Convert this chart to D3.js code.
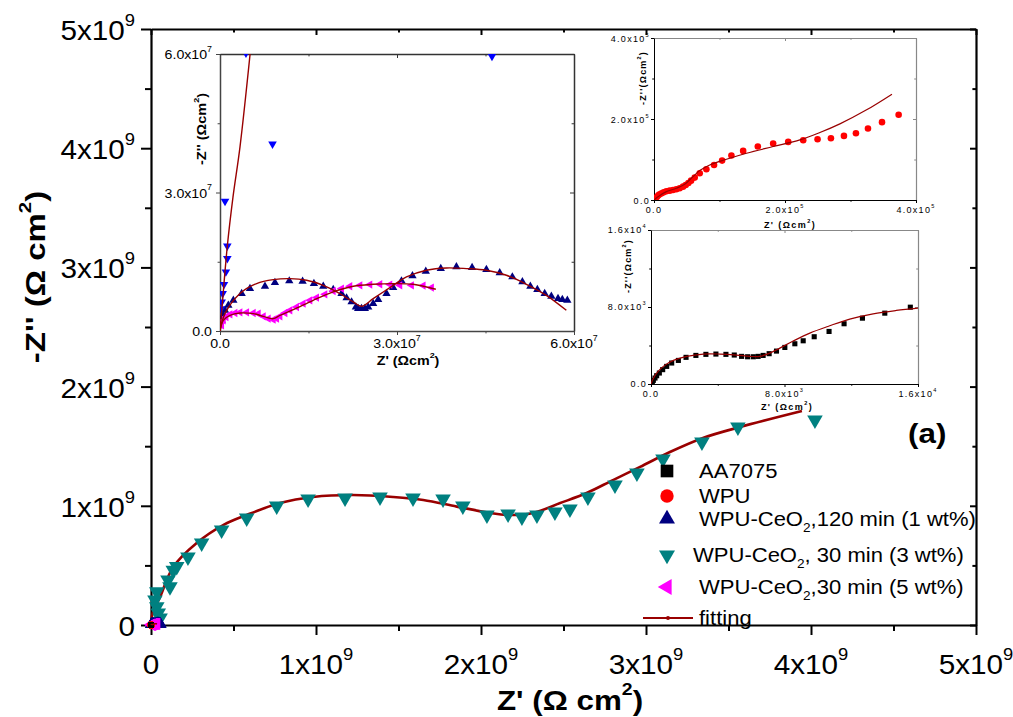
<!DOCTYPE html>
<html>
<head>
<meta charset="utf-8">
<script src="https://cdn.jsdelivr.net/npm/d3@7/dist/d3.min.js"></script>
<style>
body { margin: 0; background: #fff; }
text { font-family: Arial, "Liberation Sans", sans-serif; }
</style>
</head>
<body>
<div id="chart"></div>
<script>
// ---- data: Z' and -Z'' in ohm cm^2 (each list written in the unit of its own inset) ----

// AA7075, x 1e3
const aaRe = [0.08,0.14,0.24,0.34,0.50,0.70,0.94,1.24,1.64,2.10,2.69,3.29,3.89,4.49,4.99,5.43,5.79,6.13,6.42,6.72,7.08,7.52,8.02,8.62,9.12,9.78,10.67,11.57,12.67,14.01,15.54].map(v => v * 1e3);
const aaIm = [0.17,0.38,0.62,0.86,1.14,1.49,1.83,2.18,2.45,2.77,2.97,3.08,3.11,3.08,3.01,2.87,2.83,2.83,2.87,2.97,3.15,3.42,3.80,4.18,4.49,4.91,5.46,6.26,6.84,7.36,7.98].map(v => v * 1e3);
const aaFitRe = [0,0.10,0.34,0.74,1.34,2.14,3.13,4.13,5.13,5.93,6.52,7.12,7.72,8.52,9.52,10.71,11.91,13.31,14.70,16.0].map(v => v * 1e3);
const aaFitIm = [0,0.45,1.14,1.83,2.45,2.87,3.11,3.11,3.01,2.87,2.87,3.21,3.73,4.46,5.29,6.05,6.74,7.29,7.64,7.88].map(v => v * 1e3);

// WPU, x 1e5
const wpuRe = [0.025,0.046,0.066,0.087,0.117,0.148,0.189,0.240,0.290,0.341,0.392,0.443,0.484,0.525,0.566,0.622,0.698,0.800,0.917,1.040,1.182,1.361,1.585,1.819,2.049,2.278,2.497,2.701,2.900,3.083,3.267,3.481,3.735].map(v => v * 1e5);
const wpuIm = [0.041,0.082,0.116,0.140,0.165,0.190,0.214,0.231,0.247,0.264,0.289,0.330,0.371,0.421,0.478,0.553,0.660,0.759,0.866,0.973,1.097,1.212,1.320,1.394,1.435,1.476,1.501,1.526,1.583,1.649,1.765,1.922,2.103].map(v => v * 1e5);
const wpuFitRe = [0,0.061,0.189,0.341,0.469,0.596,0.698,0.851,1.106,1.412,1.819,2.227,2.533,2.838,3.246,3.633].map(v => v * 1e5);
const wpuFitIm = [0,0.082,0.206,0.289,0.388,0.577,0.726,0.866,1.006,1.155,1.320,1.484,1.666,1.880,2.227,2.614].map(v => v * 1e5);

// WPU-CeO2 120 min (1 wt%), x 1e7
const ce1Re = [0.028,0.056,0.085,0.141,0.226,0.367,0.508,0.762,0.931,1.174,1.400,1.592,1.750,1.919,2.060,2.145,2.230,2.303,2.342,2.399,2.455,2.512,2.596,2.681,2.822,2.935,3.076,3.262,3.488,3.742,4.007,4.273,4.515,4.741,4.955,5.125,5.260,5.379,5.503,5.616,5.729,5.802,5.887].map(v => v * 1e7);
const ce1Im = [0.231,0.340,0.448,0.557,0.665,0.810,0.918,0.969,1.048,1.084,1.077,1.027,0.969,0.896,0.810,0.716,0.629,0.520,0.484,0.484,0.484,0.520,0.593,0.680,0.810,0.940,1.084,1.193,1.294,1.352,1.388,1.374,1.330,1.258,1.171,1.063,0.969,0.896,0.810,0.752,0.701,0.680,0.665].map(v => v * 1e7);
const ce1FitRe = [0,0.085,0.339,0.621,0.903,1.185,1.467,1.750,2.032,2.258,2.399,2.596,2.879,3.161,3.500,3.838,4.177,4.515,4.854,5.193,5.531,5.870].map(v => v * 1e7);
const ce1FitIm = [0,0.376,0.810,1.027,1.113,1.135,1.099,0.990,0.810,0.629,0.535,0.701,0.940,1.171,1.316,1.366,1.352,1.316,1.207,1.012,0.773,0.448].map(v => v * 1e7);

// WPU-CeO2 30 min (5 wt%), x 1e7
const ce5Re = [0.028,0.056,0.102,0.169,0.254,0.339,0.452,0.564,0.649,0.734,0.818,0.903,0.960,1.016,1.101,1.185,1.298,1.411,1.524,1.637,1.778,1.919,2.060,2.201,2.371,2.540,2.709,2.879,3.048,3.245,3.443,3.584].map(v => v * 1e7);
const ce5Im = [0.123,0.231,0.304,0.361,0.390,0.405,0.405,0.390,0.376,0.318,0.267,0.246,0.267,0.318,0.390,0.448,0.520,0.593,0.665,0.723,0.795,0.867,0.918,0.969,0.990,1.005,1.012,1.005,0.990,0.990,0.983,0.940].map(v => v * 1e7);
const ce5FitRe = [0,0.056,0.169,0.339,0.564,0.734,0.903,1.016,1.242,1.580,1.919,2.258,2.596,2.935,3.274,3.658].map(v => v * 1e7);
const ce5FitIm = [0,0.231,0.340,0.390,0.376,0.318,0.267,0.340,0.463,0.665,0.846,0.969,1.012,1.027,1.012,0.904].map(v => v * 1e7);

// WPU-CeO2 30 min (3 wt%), low range shown in the inset, x 1e7
const ce3LowRe = [0.017,0.028,0.045,0.068,0.100,0.124,0.124,0.085,0.89,0.44,4.61].map(v => v * 1e7);
const ce3LowIm = [0.48,0.63,0.81,1.01,1.28,1.57,1.84,2.81,4.05,6.02,5.95].map(v => v * 1e7);
const ce3LowFitRe = [0,0.03,0.124,0.22,0.339,0.51].map(v => v * 1e7);
const ce3LowFitIm = [0,0.45,1.84,2.9,3.99,6.0].map(v => v * 1e7);

// WPU-CeO2 30 min (3 wt%), full range, x 1e9
const ce3Re = [0.024,0.035,0.044,0.055,0.035,0.103,0.115,0.135,0.156,0.224,0.307,0.428,0.580,0.762,0.952,1.176,1.388,1.588,1.770,1.890,2.036,2.164,2.248,2.339,2.448,2.539,2.648,2.812,2.945,3.103,3.339,3.557,4.024].map(v => v * 1e9);
const ce3Im = [0.210,0.154,0.100,0.058,0.280,0.378,0.320,0.460,0.490,0.570,0.688,0.797,0.898,0.998,1.057,1.065,1.074,1.065,1.057,0.998,0.923,0.931,0.906,0.923,0.948,0.973,1.074,1.174,1.275,1.393,1.535,1.661,1.720].map(v => v * 1e9);
const ce3FitRe = [0,0.010,0.055,0.135,0.277,0.440,0.580,0.782,0.982,1.224,1.467,1.650,1.853,2.055,2.156,2.315,2.480,2.640,2.800,2.964,3.145,3.345,3.570,3.945].map(v => v * 1e9);
const ce3FitIm = [0,0.100,0.235,0.487,0.688,0.840,0.923,1.023,1.074,1.090,1.074,1.049,0.993,0.940,0.923,0.940,1.023,1.107,1.216,1.326,1.451,1.569,1.661,1.795].map(v => v * 1e9);

// tick labels
const mainTicks = [0, 1e9, 2e9, 3e9, 4e9, 5e9];
const mainTickLabels = ["0", "1x10^9", "2x10^9", "3x10^9", "4x10^9", "5x10^9"];
const in1Ticks = [0, 3e7, 6e7];
const in1TickLabels = ["0.0", "3.0x10^7", "6.0x10^7"];
const in2Ticks = [0, 2e5, 4e5];
const in2TickLabels = ["0.0", "2.0x10^5", "4.0x10^5"];
const in3Ticks = [0, 8e3, 1.6e4];
const in3TickLabels = ["0.0", "8.0x10^3", "1.6x10^4"];

const legendLabels = ["AA7075", "WPU", "WPU-CeO_2,120 min (1 wt%)", "WPU-CeO_2, 30 min (3 wt%)", "WPU-CeO_2,30 min (5 wt%)", "fitting"];

const fitColor = "#990000";
const svg = d3.select("#chart").append("svg").attr("width", 1013).attr("height", 717);

// text with ^x superscripts and _x subscripts
function rich(t, str, fs) {
  let shift = 0;
  str.split(/([\^_].)/).filter(s => s.length).forEach(p => {
    if (p[0] == "^" || p[0] == "_") {
      const d = p[0] == "^" ? -fs * 0.52 : fs * 0.3;
      t.append("tspan").attr("font-size", fs * 0.62).attr("dy", d - shift).text(p[1]);
      shift = d;
    } else {
      t.append("tspan").attr("dy", -shift).text(p);
      shift = 0;
    }
  });
}

function label(parent, x, y, str, o) {
  const t = parent.append("text")
    .attr("transform", `translate(${x},${y})` + (o.rot ? " rotate(-90)" : "") + ` scale(${o.sx || 1},1)`)
    .attr("text-anchor", o.anchor || "middle")
    .attr("font-size", o.fs)
    .attr("font-weight", o.bold ? "bold" : null)
    .attr("letter-spacing", o.ls || null)
    .attr("fill", "#000");
  rich(t, str, o.fs);
  return t;
}

function drawAxes(g, x, y, o) {
  const [x0, x1] = x.range(), [y0, y1] = y.range();
  const mk = (axis, tr, vals, len, color, w) => {
    const a = g.append("g").attr("transform", tr).attr("color", color)
      .call(axis.tickValues(vals).tickSize(len).tickSizeOuter(0).tickFormat(""));
    a.select(".domain").attr("stroke-width", w);
    a.selectAll(".tick line").attr("stroke-width", o.tw);
    return a;
  };
  mk(d3.axisTop(x), `translate(0,${y1})`, o.majors, -o.ti, o.c2, o.w2);
  mk(d3.axisTop(x), `translate(0,${y1})`, o.minors, -o.ti * 0.6, o.c2, 0).select(".domain").remove();
  mk(d3.axisRight(y), `translate(${x1},0)`, o.majors, -o.ti, o.c2, o.w2);
  mk(d3.axisRight(y), `translate(${x1},0)`, o.minors, -o.ti * 0.6, o.c2, 0).select(".domain").remove();
  mk(d3.axisBottom(x), `translate(0,${y0})`, o.majors, o.tl, o.c1, o.w1);
  mk(d3.axisBottom(x), `translate(0,${y0})`, o.minors, o.tl * 0.6, o.c1, 0).select(".domain").remove();
  mk(d3.axisLeft(y), `translate(${x0},0)`, o.majors, o.tl, o.c1, o.w1);
  mk(d3.axisLeft(y), `translate(${x0},0)`, o.minors, o.tl * 0.6, o.c1, 0).select(".domain").remove();
  o.labels.forEach((s, i) => {
    label(g, x(o.majors[i]), y0 + o.xOff, s, {fs: o.fs, sx: o.sx, ls: o.ls});
    label(g, x0 - o.yGap, y(o.majors[i]) + o.yOff, s, {fs: o.fs, sx: o.sx, ls: o.ls, anchor: "end"});
  });
}

function scatter(g, x, y, xs, ys, o) {
  g.append("g").selectAll("path").data(xs.map((v, i) => [v, ys[i]])).join("path")
    .attr("d", d3.symbol().type(o.type).size(o.size))
    .attr("transform", d => `translate(${x(d[0])},${y(d[1])}) rotate(${o.rot || 0})`)
    .attr("fill", o.color);
}

function fit(g, x, y, xs, ys, w) {
  g.append("path").datum(xs.map((v, i) => [v, ys[i]]))
    .attr("d", d3.line().x(d => x(d[0])).y(d => y(d[1])).curve(d3.curveCatmullRom.alpha(0.5)))
    .attr("fill", "none").attr("stroke", fitColor).attr("stroke-width", w);
}

function clipped(id, x, y) {
  const [x0, x1] = x.range(), [y0, y1] = y.range();
  svg.append("clipPath").attr("id", id).append("rect")
    .attr("x", x0).attr("y", y1).attr("width", x1 - x0).attr("height", y0 - y1);
  return svg.append("g").attr("clip-path", `url(#${id})`);
}

/* ---------------- main plot ---------------- */
const mx = d3.scaleLinear().domain([0, 5e9]).range([151, 976]);
const my = d3.scaleLinear().domain([0, 5e9]).range([625, 29]);
const gm = svg.append("g");
drawAxes(gm, mx, my, {majors: mainTicks, minors: d3.range(0.5e9, 5e9, 1e9), labels: mainTickLabels,
  tl: 10, ti: 6, tw: 2, c1: "#000", c2: "#000", w1: 2.2, w2: 2.2,
  fs: 27, sx: 1.1, xOff: 49, yGap: 16, yOff: 11});
label(gm, 570, 710, "Z' (\u03A9 cm^2)", {fs: 28, bold: true, sx: 1.12});
label(gm, 45, 277, "-Z'' (\u03A9 cm^2)", {fs: 27, bold: true, sx: 1.22, rot: true});

fit(gm, mx, my, ce3FitRe, ce3FitIm, 2.6);
scatter(gm, mx, my, ce3Re, ce3Im, {type: d3.symbolTriangle, size: 105, rot: 180, color: "#008080"});
scatter(gm, mx, my, ce1Re, ce1Im, {type: d3.symbolTriangle, size: 60, color: "#000080"});
scatter(gm, mx, my, ce5Re, ce5Im, {type: d3.symbolTriangle, size: 60, rot: -90, color: "#FF00FF"});
scatter(gm, mx, my, wpuRe, wpuIm, {type: d3.symbolCircle, size: 40, color: "#FF0000"});
scatter(gm, mx, my, aaRe, aaIm, {type: d3.symbolSquare, size: 30, color: "#000"});
fit(gm, mx, my, ce5FitRe, ce5FitIm, 1.5);

/* ---------------- inset 1: 1, 3, 5 wt% ---------------- */
const ax1 = d3.scaleLinear().domain([0, 6e7]).range([220, 574]);
const ay1 = d3.scaleLinear().domain([0, 6e7]).range([331, 54]);
const g1 = svg.append("g");
drawAxes(g1, ax1, ay1, {majors: in1Ticks, minors: [1.5e7, 4.5e7], labels: in1TickLabels,
  tl: 4, ti: 4, tw: 1, c1: "#444", c2: "#333", w1: 1.5, w2: 1.5,
  fs: 13.5, sx: 1.05, xOff: 17, yGap: 8, yOff: 5});
label(g1, 408, 365, "Z' (\u03A9cm^2)", {fs: 13, bold: true, sx: 1.1});
label(g1, 206, 129, "-Z'' (\u03A9cm^2)", {fs: 13, bold: true, sx: 1.12, rot: true});
const c1 = clipped("clip1", ax1, ay1);
scatter(c1, ax1, ay1, ce1Re, ce1Im, {type: d3.symbolTriangle, size: 30, color: "#000080"});
scatter(c1, ax1, ay1, ce5Re, ce5Im, {type: d3.symbolTriangle, size: 30, rot: -90, color: "#FF00FF"});
scatter(c1, ax1, ay1, ce3LowRe, ce3LowIm, {type: d3.symbolTriangle, size: 32, rot: 180, color: "#0000FF"});
fit(c1, ax1, ay1, ce1FitRe, ce1FitIm, 1.4);
fit(c1, ax1, ay1, ce5FitRe, ce5FitIm, 1.4);
fit(c1, ax1, ay1, ce3LowFitRe, ce3LowFitIm, 1.4);

/* ---------------- inset 2: WPU ---------------- */
const ax2 = d3.scaleLinear().domain([0, 4e5]).range([654, 916]);
const ay2 = d3.scaleLinear().domain([0, 4e5]).range([200, 38]);
const g2 = svg.append("g");
drawAxes(g2, ax2, ay2, {majors: in2Ticks, minors: [1e5, 3e5], labels: in2TickLabels,
  tl: 3, ti: 3, tw: 1, c1: "#000", c2: "#888", w1: 1, w2: 1.2,
  fs: 9, sx: 1, ls: 1.3, xOff: 13, yGap: 4, yOff: 4});
label(g2, 790, 228, "Z' (\u03A9cm^2)", {fs: 9, bold: true, ls: 1.4});
label(g2, 646, 78, "-Z''(\u03A9cm^2)", {fs: 9, bold: true, ls: 1.2, rot: true});
const c2 = clipped("clip2", ax2, ay2);
scatter(c2, ax2, ay2, wpuRe, wpuIm, {type: d3.symbolCircle, size: 34, color: "#FF0000"});
fit(c2, ax2, ay2, wpuFitRe, wpuFitIm, 1.2);

/* ---------------- inset 3: AA7075 ---------------- */
const ax3 = d3.scaleLinear().domain([0, 1.6e4]).range([651, 918]);
const ay3 = d3.scaleLinear().domain([0, 1.6e4]).range([384, 230]);
const g3 = svg.append("g");
drawAxes(g3, ax3, ay3, {majors: in3Ticks, minors: [4e3, 1.2e4], labels: in3TickLabels,
  tl: 3, ti: 3, tw: 1, c1: "#000", c2: "#888", w1: 1, w2: 1.2,
  fs: 9, sx: 1, ls: 1.3, xOff: 13, yGap: 4, yOff: 3});
label(g3, 787, 410, "Z' (\u03A9cm^2)", {fs: 9, bold: true, ls: 1.4});
label(g3, 631, 266, "-Z''(\u03A9cm^2)", {fs: 9, bold: true, ls: 1.2, rot: true});
const c3 = clipped("clip3", ax3, ay3);
scatter(c3, ax3, ay3, aaRe, aaIm, {type: d3.symbolSquare, size: 26, color: "#000"});
fit(c3, ax3, ay3, aaFitRe, aaFitIm, 1.2);

/* ---------------- legend ---------------- */
const lg = svg.append("g");
const rowY = [471, 496, 519, 555, 587, 618];
const legendSyms = [
  {type: d3.symbolSquare, size: 160, color: "#000"},
  {type: d3.symbolCircle, size: 140, color: "#FF0000"},
  {type: d3.symbolTriangle, size: 110, color: "#000080"},
  {type: d3.symbolTriangle, size: 110, rot: 180, color: "#008080"},
  {type: d3.symbolTriangle, size: 110, rot: -90, color: "#FF00FF"}
];
legendSyms.forEach((s, i) => {
  lg.append("path").attr("d", d3.symbol().type(s.type).size(s.size))
    .attr("transform", `translate(667,${rowY[i]}) rotate(${s.rot || 0})`).attr("fill", s.color);
});
lg.append("line").attr("x1", 643).attr("x2", 693).attr("y1", rowY[5]).attr("y2", rowY[5])
  .attr("stroke", fitColor).attr("stroke-width", 2);
lg.append("circle").attr("cx", 668).attr("cy", rowY[5]).attr("r", 2).attr("fill", fitColor);
legendLabels.forEach((s, i) => {
  label(lg, i == 3 ? 693 : 699, rowY[i] + 7, s, {fs: 19.5, sx: 1.13, anchor: "start"});
});

label(svg, 908, 443, "(a)", {fs: 28, bold: true, sx: 1.12, anchor: "start"});
</script>
</body>
</html>
